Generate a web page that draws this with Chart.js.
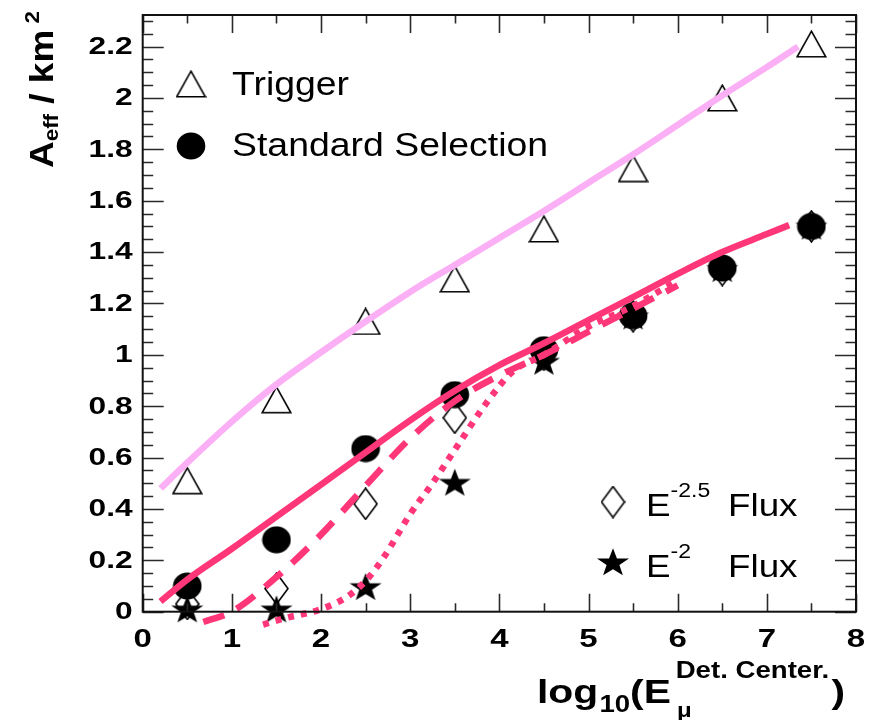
<!DOCTYPE html>
<html><head><meta charset="utf-8">
<script src="https://cdn.jsdelivr.net/npm/chart.js@4/dist/chart.umd.min.js"></script>
<style>html,body{margin:0;padding:0;background:#fff;}#wrap{width:873px;height:720px;position:relative;}</style>
</head><body><div id="wrap"><canvas id="c" width="873" height="720"></canvas></div>
<script>
// ---------- data ----------
const xBins = [0.5, 1.5, 2.5, 3.5, 4.5, 5.5, 6.5, 7.5];
const triggerVals  = [0.51, 0.825, 1.13, 1.295, 1.49, 1.725, 2.0, 2.21];
const standardVals = [0.10, 0.28, 0.635, 0.845, 1.02, 1.152, 1.338, 1.50];
const flux25Vals   = [0.03, 0.09, 0.42, 0.755, 1.0, 1.15, 1.33, 1.50];
const flux2Vals    = [0.01, 0.01, 0.097, 0.503, 0.974, 1.15, 1.335, 1.50];

const trigCurveX = [0.2, 0.5, 1, 1.5, 2, 2.5, 3, 3.5, 4, 4.5, 5, 5.5, 6, 6.5, 7, 7.35];
const trigCurveY = [0.48, 0.58, 0.74, 0.885, 1.01, 1.13, 1.245, 1.35, 1.455, 1.56, 1.67, 1.78, 1.895, 2.01, 2.12, 2.2];
const stdCurveX  = [0.2, 0.5, 1, 1.5, 2, 2.5, 3, 3.5, 4, 4.5, 5, 5.5, 6, 6.5, 7, 7.25];
const stdCurveY  = [0.04, 0.125, 0.245, 0.37, 0.495, 0.62, 0.745, 0.86, 0.96, 1.045, 1.135, 1.225, 1.315, 1.40, 1.47, 1.505];
const e25CurveX  = [0.68, 1.0, 1.5, 2.0, 2.5, 3.0, 3.5, 4.0, 4.5, 5.0, 5.5, 6.0];
const e25CurveY  = [-0.04, 0.0, 0.135, 0.30, 0.49, 0.675, 0.82, 0.92, 1.0, 1.09, 1.18, 1.27];
const e2CurveX   = [1.35, 1.6, 2.0, 2.3, 2.5, 2.7, 3.0, 3.25, 3.5, 3.85, 4.15, 4.5, 5.0, 5.5, 5.95];
const e2CurveY   = [-0.05, -0.025, 0.01, 0.06, 0.12, 0.21, 0.38, 0.5, 0.63, 0.81, 0.935, 1.0, 1.11, 1.19, 1.28];

const xTickValues = [0, 1, 2, 3, 4, 5, 6, 7, 8];
const xTickLabels = ['0', '1', '2', '3', '4', '5', '6', '7', '8'];
const yTickValues = [0, 0.2, 0.4, 0.6, 0.8, 1, 1.2, 1.4, 1.6, 1.8, 2, 2.2];
const yTickLabels = ['0', '0.2', '0.4', '0.6', '0.8', '1', '1.2', '1.4', '1.6', '1.8', '2', '2.2'];

const legendTop = ['Trigger', 'Standard Selection'];
const legendBottom = [['E', '-2.5', 'Flux'], ['E', '-2', 'Flux']];

// ---------- styles ----------
const PINK_LIGHT = '#fbb0f6';
const PINK = '#ff3779';
const FONT = '"Liberation Sans", Arial, sans-serif';

function mk(w, h, fn) { const c = document.createElement('canvas'); c.width = w; c.height = h; fn(c.getContext('2d'), w, h); return c; }
const triImg = mk(31, 28, (g, w, h) => {
  g.lineWidth = 1.6; g.strokeStyle = '#000';
  g.beginPath(); g.moveTo(w / 2, 1.2); g.lineTo(w - 1.2, h - 1.2); g.lineTo(1.2, h - 1.2); g.closePath(); g.stroke();
});
const circImg = mk(30, 28, (g, w, h) => {
  g.fillStyle = '#000'; g.beginPath(); g.ellipse(w / 2, h / 2, 14.3, 13.4, 0, 0, Math.PI * 2); g.fill();
});
const diaImg = mk(25, 33, (g, w, h) => {
  g.lineWidth = 1.6; g.strokeStyle = '#000'; g.fillStyle = '#fff';
  g.beginPath(); g.moveTo(w / 2, 1); g.lineTo(w - 1, h / 2); g.lineTo(w / 2, h - 1); g.lineTo(1, h / 2); g.closePath(); g.fill(); g.stroke();
});
const starImg = mk(34, 32, (g, w, h) => {
  g.fillStyle = '#000'; g.beginPath();
  const R = 16.5, r = 6.6, cx = w / 2, cy = 17.2;
  for (let i = 0; i < 10; i++) {
    const a = -Math.PI / 2 + i * Math.PI / 5, rr = i % 2 ? r : R;
    const px = cx + Math.cos(a) * rr * 1.02, py = cy + Math.sin(a) * rr * 0.9;
    i ? g.lineTo(px, py) : g.moveTo(px, py);
  }
  g.closePath(); g.fill();
});

const pts = (xs, ys) => xs.map((x, i) => ({ x, y: ys[i] }));
const lineDs = (xs, ys, color, dash, extra) => Object.assign({
  data: pts(xs, ys), showLine: true, borderColor: color, borderWidth: 6.5, pointRadius: 0,
  borderDash: dash, borderCapStyle: 'butt', cubicInterpolationMode: 'monotone', fill: false
}, extra || {});
const markDs = (ys, img) => ({ data: pts(xBins, ys), pointStyle: img, pointRadius: 14, showLine: false, clip: false });

function drawPieces(ctx, x, y, pieces, sx, rot) {
  ctx.save(); ctx.translate(x, y); if (rot) ctx.rotate(rot); ctx.scale(sx, 1);
  ctx.textBaseline = 'alphabetic'; ctx.textAlign = 'left'; ctx.fillStyle = '#000';
  let cx = 0;
  for (const p of pieces) {
    ctx.font = p.font;
    ctx.fillText(p.t, cx, p.dy || 0);
    cx += ctx.measureText(p.t).width + (p.gap || 0);
  }
  ctx.restore();
}

const decor = {
  id: 'decor',
  afterDatasetsDraw(chart) {
    const ctx = chart.ctx, a = chart.chartArea, xs = chart.scales.x, ys = chart.scales.y;
    ctx.save();
    // ticks
    ctx.strokeStyle = '#2a2a2a'; ctx.lineWidth = 1.6;
    ctx.beginPath();
    for (let v = 0; v <= 2.3001; v += 0.05) {
      const py = Math.round(ys.getPixelForValue(v)) + 0.5;
      const major = Math.abs(v / 0.2 - Math.round(v / 0.2)) < 1e-6;
      const L = major ? 21 : 10.5;
      ctx.moveTo(a.left, py); ctx.lineTo(a.left + L, py);
      ctx.moveTo(a.right, py); ctx.lineTo(a.right - L, py);
    }
    for (let v = 0; v <= 8.0001; v += 0.5) {
      const px = Math.round(xs.getPixelForValue(v)) + 0.5;
      const major = Math.abs(v - Math.round(v)) < 1e-6;
      ctx.moveTo(px, a.bottom); ctx.lineTo(px, a.bottom - (major ? 18 : 8.5));
      ctx.moveTo(px, a.top); ctx.lineTo(px, a.top + (major ? 18 : 8.5));
    }
    ctx.stroke();
    // frame
    ctx.lineWidth = 2; ctx.strokeStyle = '#111';
    ctx.strokeRect(a.left, a.top, a.right - a.left, a.bottom - a.top);
    // tick labels
    ctx.fillStyle = '#000';
    ctx.textBaseline = 'middle';
    yTickValues.forEach((v, i) => {
      ctx.save(); ctx.translate(a.left - 10, ys.getPixelForValue(v) + 1); ctx.scale(1.38, 1);
      ctx.font = 'bold 23px ' + FONT; ctx.textAlign = 'right'; ctx.fillText(yTickLabels[i], 0, 0); ctx.restore();
    });
    xTickValues.forEach((v, i) => {
      ctx.save(); ctx.translate(xs.getPixelForValue(v), a.bottom + 28); ctx.scale(1.32, 1);
      ctx.font = 'bold 25px ' + FONT; ctx.textAlign = 'center'; ctx.fillText(xTickLabels[i], 0, 0); ctx.restore();
    });
    // axis titles
    drawPieces(ctx, 53, 168, [
      { t: 'A', font: 'bold 33px ' + FONT },
      { t: 'eff', font: 'bold 20px ' + FONT, dy: 5 },
      { t: ' / km', font: 'bold 33px ' + FONT },
      { t: ' 2', font: 'bold 20px ' + FONT, dy: -14 }
    ], 1.12, -Math.PI / 2);
    const B = 'bold ', F34 = '34px ' + FONT;
    ctx.save(); ctx.translate(537, 703); ctx.scale(1.2, 1); ctx.fillStyle = '#000';
    ctx.textBaseline = 'alphabetic';
    let cx = 0;
    ctx.font = B + F34; ctx.fillText('log', cx, 0); cx += ctx.measureText('log').width + 1;
    ctx.font = B + '23px ' + FONT; ctx.fillText('10', cx, 9); cx += ctx.measureText('10').width;
    ctx.font = B + F34; ctx.fillText('(E', cx, 0); cx += ctx.measureText('(E').width + 4;
    ctx.font = B + '20px ' + FONT; ctx.fillText('\u03bc', cx + 1, 14);
    ctx.font = B + '23px ' + FONT; ctx.fillText('Det. Center.', cx, -25); cx += ctx.measureText('Det. Center.').width + 2;
    ctx.font = B + F34; ctx.fillText(')', cx, 0);
    ctx.restore();
    // legends
    ctx.drawImage(triImg, 191 - triImg.width / 2, 84 - triImg.height / 2);
    ctx.drawImage(circImg, 191 - circImg.width / 2, 146 - circImg.height / 2);
    drawPieces(ctx, 232, 95, [{ t: legendTop[0], font: '34px ' + FONT }], 1.1);
    drawPieces(ctx, 232, 156, [{ t: legendTop[1], font: '34px ' + FONT }], 1.1);
    ctx.drawImage(diaImg, 613 - diaImg.width / 2, 502 - diaImg.height / 2);
    ctx.drawImage(starImg, 613 - starImg.width / 2, 562 - starImg.height / 2);
    [[516, legendBottom[0]], [577, legendBottom[1]]].forEach(([by, L]) => {
      drawPieces(ctx, 646, by, [
        { t: L[0], font: '32px ' + FONT },
        { t: L[1], font: '20px ' + FONT, dy: -19 }
      ], 1.15);
      drawPieces(ctx, 728, by, [{ t: L[2], font: '32px ' + FONT }], 1.15);
    });
    ctx.restore();
  }
};

new Chart(document.getElementById('c'), {
  type: 'scatter',
  data: {
    datasets: [
      lineDs(e2CurveX, e2CurveY, PINK, [6, 7], { clip: false }),
      lineDs(e25CurveX, e25CurveY, PINK, [22, 14], { clip: false }),
      lineDs(stdCurveX, stdCurveY, PINK, []),
      lineDs(trigCurveX, trigCurveY, PINK_LIGHT, []),
      markDs(flux2Vals, starImg),
      markDs(standardVals, circImg),
      markDs(flux25Vals, diaImg),
      markDs(triggerVals, triImg)
    ]
  },
  options: {
    responsive: false, animation: false, devicePixelRatio: 1,
    layout: { padding: { left: 0, top: 11.5, right: 17, bottom: 0 } },
    plugins: { legend: { display: false }, tooltip: { enabled: false } },
    scales: {
      x: {
        type: 'linear', min: 0, max: 8,
        grid: { display: false }, border: { display: false }, ticks: { display: false },
        afterBuildTicks: s => { s.ticks = xTickValues.map(v => ({ value: v })); },
        afterFit: s => { s.height = 108.3; }
      },
      y: {
        type: 'linear', min: 0, max: 2.323,
        grid: { display: false }, border: { display: false }, ticks: { display: false },
        afterBuildTicks: s => { s.ticks = yTickValues.map(v => ({ value: v })); },
        afterFit: s => { s.width = 142.7; }
      }
    }
  },
  plugins: [decor]
});
</script></body></html>
